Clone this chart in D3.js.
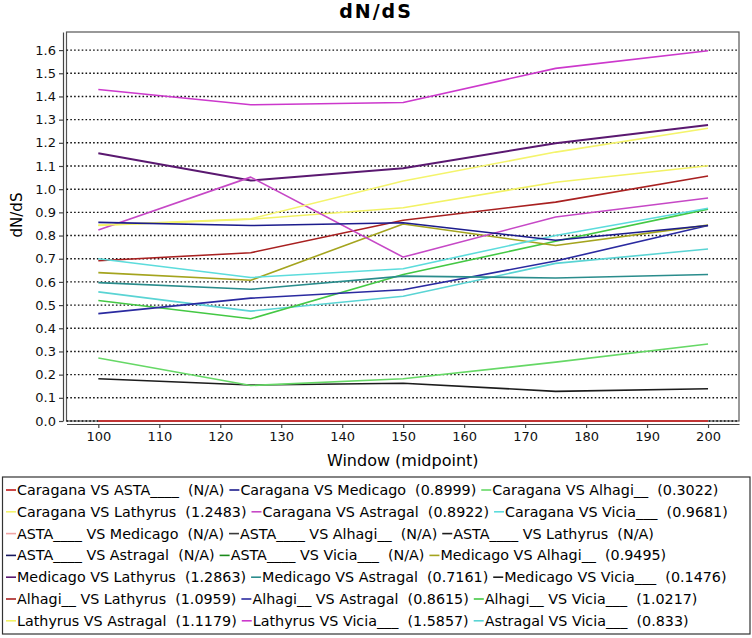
<!DOCTYPE html>
<html>
<head>
<meta charset="utf-8">
<script src="https://cdn.jsdelivr.net/npm/d3@7"></script>
<style>
  html, body { margin: 0; padding: 0; background: #fff; }
  svg text { font-family: "DejaVu Sans", Verdana, sans-serif; }
</style>
</head>
<body>
<svg id="chart" width="752" height="638"></svg>
<script>
// ---------- data ----------
const windowMidpoints = [100, 125, 150, 175, 200];
const yTickValues = [0.0,0.1,0.2,0.3,0.4,0.5,0.6,0.7,0.8,0.9,1.0,1.1,1.2,1.3,1.4,1.5,1.6];
const xTickValues = [100,110,120,130,140,150,160,170,180,190,200];

const seriesNames = [
  "Caragana VS ASTA____", "Caragana VS Medicago", "Caragana VS Alhagi__",
  "Caragana VS Lathyrus", "Caragana VS Astragal", "Caragana VS Vicia___",
  "ASTA____ VS Medicago", "ASTA____ VS Alhagi__", "ASTA____ VS Lathyrus",
  "ASTA____ VS Astragal", "ASTA____ VS Vicia___", "Medicago VS Alhagi__",
  "Medicago VS Lathyrus", "Medicago VS Astragal", "Medicago VS Vicia___",
  "Alhagi__ VS Lathyrus", "Alhagi__ VS Astragal", "Alhagi__ VS Vicia___",
  "Lathyrus VS Astragal", "Lathyrus VS Vicia___", "Astragal VS Vicia___"
];
const seriesAverages = [
  "N/A", "0.8999", "0.3022",
  "1.2483", "0.8922", "0.9681",
  "N/A", "N/A", "N/A",
  "N/A", "N/A", "0.9495",
  "1.2863", "0.7161", "0.1476",
  "1.0959", "0.8615", "1.0217",
  "1.1179", "1.5857", "0.833"
];

const caraganaAsta     = [0, 0, 0, 0, 0];
const caraganaMedicago = [0.857, 0.843, 0.855, 0.780, 0.843];
const caraganaAlhagi   = [0.272, 0.153, 0.182, 0.254, 0.332];
const caraganaLathyrus = [0.845, 0.872, 1.035, 1.160, 1.263];
const caraganaAstragal = [0.824, 1.052, 0.707, 0.880, 0.962];
const caraganaVicia    = [0.700, 0.619, 0.657, 0.800, 0.918];
const astaMedicago     = [0, 0, 0, 0, 0];
const astaAlhagi       = [0, 0, 0, 0, 0];
const astaLathyrus     = [0, 0, 0, 0, 0];
const astaAstragal     = [0, 0, 0, 0, 0];
const astaVicia        = [0, 0, 0, 0, 0];
const medicagoAlhagi   = [0.640, 0.607, 0.850, 0.757, 0.845];
const medicagoLathyrus = [1.155, 1.037, 1.090, 1.198, 1.277];
const medicagoAstragal = [0.597, 0.568, 0.625, 0.617, 0.632];
const medicagoVicia    = [0.182, 0.155, 0.163, 0.128, 0.139];
const alhagiLathyrus   = [0.691, 0.726, 0.866, 0.944, 1.057];
const alhagiAstragal   = [0.463, 0.530, 0.566, 0.690, 0.843];
const alhagiVicia      = [0.520, 0.441, 0.632, 0.775, 0.914];
const lathyrusAstragal = [0.843, 0.870, 0.920, 1.030, 1.101];
const lathyrusVicia    = [1.430, 1.364, 1.374, 1.521, 1.597];
const astragalVicia    = [0.557, 0.474, 0.538, 0.680, 0.742];

const seriesValues = [
  caraganaAsta, caraganaMedicago, caraganaAlhagi,
  caraganaLathyrus, caraganaAstragal, caraganaVicia,
  astaMedicago, astaAlhagi, astaLathyrus,
  astaAstragal, astaVicia, medicagoAlhagi,
  medicagoLathyrus, medicagoAstragal, medicagoVicia,
  alhagiLathyrus, alhagiAstragal, alhagiVicia,
  lathyrusAstragal, lathyrusVicia, astragalVicia
];

// ---------- styles ----------
const seriesColors = [
  "#c01818", "#1c1c8c", "#66d866",
  "#f4f46c", "#c648c6", "#5cdcdc",
  "#f0a4a4", "#3a3a3a", "#1c1c1c",
  "#18185e", "#1a8a1a", "#a4a41e",
  "#5a1870", "#2a8c8c", "#1c1c1c",
  "#a82020", "#2a2aa0", "#44c844",
  "#f2f264", "#cc38cc", "#5ad4d4"
];

// ---------- layout ----------
const svg = d3.select("#chart");
const plot = { left: 66.5, right: 739, top: 32, bottom: 421 };

const x = d3.scaleLinear().domain([94.78, 205.08]).range([plot.left, plot.right]);
const y = d3.scaleLinear().domain([0, 1.678]).range([plot.bottom, plot.top]);

// title
svg.append("text")
  .attr("x", 376).attr("y", 18)
  .attr("text-anchor", "middle")
  .attr("font-size", 19).attr("font-weight", "bold")
  .attr("letter-spacing", 2)
  .text("dN/dS");

// plot background & border
svg.append("rect")
  .attr("x", plot.left).attr("y", plot.top)
  .attr("width", plot.right - plot.left).attr("height", plot.bottom - plot.top)
  .attr("fill", "#fff").attr("stroke", "#555").attr("stroke-width", 1.2);

// gridlines
svg.append("g").selectAll("line").data(yTickValues).join("line")
  .attr("x1", plot.left).attr("x2", plot.right)
  .attr("y1", d => y(d)).attr("y2", d => y(d))
  .attr("stroke", "#111").attr("stroke-width", 1.4)
  .attr("stroke-dasharray", "1.6,2.2");

// axes
const yAxis = d3.axisLeft(y).tickValues(yTickValues).tickFormat(d3.format(".1f"))
  .tickSize(4).tickSizeOuter(0).tickPadding(3);
const gy = svg.append("g").attr("transform", "translate(63,0)").call(yAxis);
gy.selectAll("text").attr("font-size", 13).attr("fill", "#111");
gy.selectAll("path,line").attr("stroke", "#444").attr("stroke-width", 1.2);

const xAxis = d3.axisBottom(x).tickValues(xTickValues).tickFormat(d3.format("d"))
  .tickSize(4).tickSizeOuter(0).tickPadding(4);
const gx = svg.append("g").attr("transform", "translate(0,424)").call(xAxis);
gx.selectAll("text").attr("font-size", 13).attr("fill", "#111");
gx.selectAll("path,line").attr("stroke", "#444").attr("stroke-width", 1.2);

// axis labels
svg.append("text")
  .attr("transform", "translate(22,215) rotate(-90)")
  .attr("text-anchor", "middle").attr("font-size", 15)
  .text("dN/dS");
svg.append("text")
  .attr("x", (plot.left + plot.right) / 2).attr("y", 466)
  .attr("text-anchor", "middle").attr("font-size", 16)
  .text("Window (midpoint)");

// series lines (first series drawn last, on top)
const line = d3.line().x((d, i) => x(windowMidpoints[i])).y(d => y(d));
const order = d3.range(seriesValues.length).reverse();
svg.append("g").selectAll("path").data(order).join("path")
  .attr("d", i => line(seriesValues[i]))
  .attr("fill", "none")
  .attr("stroke", i => seriesColors[i])
  .attr("stroke-width", i => (i === 12 ? 2 : 1.6))
  .attr("stroke-linejoin", "round");

// legend
const legend = { left: 2.5, right: 750, top: 477, bottom: 634 };
svg.append("rect")
  .attr("x", legend.left).attr("y", legend.top)
  .attr("width", legend.right - legend.left).attr("height", legend.bottom - legend.top)
  .attr("fill", "#fff").attr("stroke", "#333").attr("stroke-width", 1.2);

const lg = svg.append("g");
const perRow = 3;
seriesNames.forEach((name, i) => {
  const row = Math.floor(i / perRow);
  const cy = 490 + row * 21.8;
  const g = lg.append("g").attr("class", "item").attr("data-row", row);
  g.append("line").attr("y1", cy).attr("y2", cy)
    .attr("stroke", seriesColors[i]).attr("stroke-width", 1.6);
  g.append("text").attr("y", cy + 5)
    .attr("font-size", 14.3).style("white-space", "pre")
    .text(name + "  (" + seriesAverages[i] + ")");
});
// flow layout per row
for (let r = 0; r < Math.ceil(seriesNames.length / perRow); r++) {
  let cx = 6;
  lg.selectAll("g.item").filter(function () { return +this.getAttribute("data-row") === r; })
    .each(function () {
      const g = d3.select(this);
      g.select("line").attr("x1", cx).attr("x2", cx + 10);
      g.select("text").attr("x", cx + 11);
      const w = g.select("text").node().getComputedTextLength();
      cx = cx + 11 + w + 5;
    });
}
</script>
</body>
</html>
